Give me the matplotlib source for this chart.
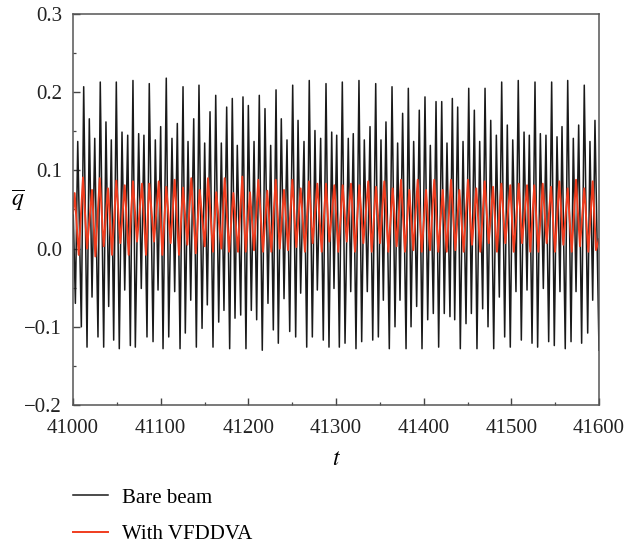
import numpy as np
import matplotlib
matplotlib.use('Agg')
import matplotlib.pyplot as plt

# extrema, times relative to t = 41000
t0 = 41000

black_peak_t = [0.0, 5.4, 12.2, 18.6, 24.8, 31.1, 37.6, 43.7, 49.4, 55.9, 62.4, 68.4, 74.9, 80.9, 87.0,
                93.9, 100.0, 106.4, 112.9, 119.0, 125.5, 131.2, 137.7, 143.7, 150.2, 156.3, 162.8, 169.2,
                175.3, 181.7, 187.4, 193.9, 200.0, 206.5, 212.5, 219.0, 225.5, 231.6, 237.6, 244.1, 250.6, 256.7,
                263.5, 269.5, 276.0, 282.5, 288.6, 295.1, 300.8, 307.2, 314.0, 319.7, 326.2, 332.3, 338.8, 345.3,
                351.3, 357.0, 363.9, 370.3, 376.0, 382.5, 388.6, 395.0, 401.5, 407.6, 414.1, 420.6, 426.6, 432.7,
                438.8, 444.9, 451.4, 457.8, 463.9, 470.0, 476.5, 482.9, 489.0, 495.4, 501.6, 507.9, 514.5, 520.5,
                527.0, 533.1, 539.5, 546.0, 552.1, 557.8, 564.3, 570.7, 576.8, 583.2, 589.7, 595.4]
black_peak_q = [0.06, 0.137, 0.207, 0.166, 0.141, 0.213, 0.162, 0.139, 0.213, 0.149, 0.145, 0.215, 0.147, 0.145, 0.211,
                0.139, 0.156, 0.218, 0.141, 0.160, 0.207, 0.137, 0.166, 0.209, 0.135, 0.175, 0.196, 0.135,
                0.181, 0.192, 0.132, 0.194, 0.183, 0.137, 0.196, 0.179, 0.132, 0.203, 0.166, 0.139, 0.209, 0.164,
                0.137, 0.215, 0.151, 0.141, 0.211, 0.149, 0.145, 0.213, 0.141, 0.147, 0.215, 0.139, 0.156, 0.211,
                0.139, 0.162, 0.207, 0.135, 0.173, 0.205, 0.137, 0.177, 0.194, 0.132, 0.188, 0.188, 0.135, 0.192,
                0.181, 0.137, 0.205, 0.177, 0.137, 0.205, 0.164, 0.145, 0.213, 0.158, 0.139, 0.215, 0.149, 0.145,
                0.213, 0.147, 0.145, 0.213, 0.143, 0.156, 0.215, 0.141, 0.158, 0.209, 0.137, 0.164]

black_trough_t = [2.7, 9.5, 16.0, 21.7, 28.5, 35.0, 40.7, 46.4, 52.8, 59.0, 65.4, 71.1, 77.9, 84.4,
                  91.3, 97.0, 102.7, 109.2, 116.0, 122.1, 128.1, 134.3, 140.7, 147.2, 153.2, 159.7, 166.2, 172.2,
                  178.7, 184.8, 191.3, 197.3, 203.4, 209.5, 215.9, 222.4, 228.5, 234.2, 240.7, 247.2, 254.0, 259.7,
                  266.6, 273.0, 278.7, 285.5, 292.0, 297.7, 303.8, 310.3, 316.8, 322.8, 329.3, 335.7, 341.9,
                  348.3, 354.0, 360.8, 367.3, 373.0, 379.9, 385.6, 392.0, 398.1, 404.6, 411.0, 417.1, 423.5, 430.0,
                  435.4, 441.8, 448.3, 454.4, 460.8, 467.3, 473.4, 479.9, 486.3, 492.4, 498.8, 505.3, 511.4, 517.9,
                  523.6, 530.0, 536.5, 542.6, 549.0, 555.5, 561.5, 568.1, 573.8, 580.2, 587.1, 592.8, 600.0]
black_trough_q = [-0.070, -0.100, -0.126, -0.062, -0.113, -0.126, -0.074, -0.117, -0.128, -0.053, -0.124, -0.126, -0.051, -0.113,
                  -0.119, -0.053, -0.128, -0.113, -0.055, -0.128, -0.108, -0.066, -0.126, -0.102, -0.072, -0.126, -0.094, -0.079,
                  -0.128, -0.089, -0.085, -0.128, -0.079, -0.091, -0.130, -0.070, -0.104, -0.121, -0.064, -0.106, -0.113, -0.057,
                  -0.126, -0.113, -0.053, -0.117, -0.126, -0.051, -0.126, -0.121, -0.055, -0.128, -0.119, -0.055, -0.117,
                  -0.113, -0.066, -0.128, -0.100, -0.066, -0.128, -0.100, -0.074, -0.128, -0.091, -0.083, -0.126, -0.083, -0.087,
                  -0.091, -0.128, -0.096, -0.083, -0.128, -0.077, -0.100, -0.128, -0.062, -0.113, -0.126, -0.055, -0.117, -0.053,
                  -0.121, -0.126, -0.051, -0.119, -0.124, -0.055, -0.128, -0.119, -0.055, -0.121, -0.108, -0.066, -0.130]

red_peak_t = [1.9, 11.4, 21.7, 30.5, 39.9, 49.4, 59.0, 68.4, 78.7, 87.0,
              97.8, 106.4, 116.0, 125.5, 134.9, 144.5, 154.0, 163.4, 173.0,
              182.9, 193.1, 201.9, 211.4, 221.6, 231.2, 240.7, 250.2, 259.7,
              269.2, 278.7, 288.6, 298.1, 307.6, 317.1, 326.6, 336.8, 345.6,
              355.1, 364.6, 374.2, 383.6, 393.2, 402.7, 412.1, 421.7, 431.2,
              440.7, 450.6, 460.0, 469.6, 479.1, 488.6, 498.8, 508.4, 517.9,
              526.2, 535.8, 545.3, 554.7, 564.3, 573.8, 583.2, 592.8, 600.0]
red_peak_q = [0.071, 0.091, 0.075, 0.090, 0.077, 0.087, 0.081, 0.086, 0.083, 0.083,
              0.086, 0.079, 0.088, 0.078, 0.090, 0.075, 0.090, 0.072, 0.090,
              0.071, 0.092, 0.072, 0.088, 0.074, 0.088, 0.075, 0.088, 0.077,
              0.086, 0.083, 0.083, 0.081, 0.081, 0.083, 0.081, 0.086, 0.079,
              0.086, 0.077, 0.088, 0.075, 0.088, 0.075, 0.088, 0.075, 0.088,
              0.075, 0.088, 0.077, 0.086, 0.079, 0.083, 0.081, 0.083, 0.081,
              0.081, 0.083, 0.079, 0.086, 0.077, 0.088, 0.077, 0.086, 0.012]

red_trough_t = [0.0, 6.5, 16.0, 25.5, 35.0, 44.5, 54.0, 63.5, 73.0, 83.3,
                92.4, 101.9, 111.4, 120.9, 130.4, 140.0, 150.2, 159.7, 169.2,
                178.0, 188.2, 197.0, 206.5, 216.7, 226.2, 235.8, 245.3, 254.7,
                264.6, 273.4, 283.7, 292.4, 302.6, 312.2, 321.7, 331.2, 340.7,
                350.2, 359.7, 369.2, 378.7, 388.2, 397.8, 407.2, 416.7, 426.3,
                436.1, 445.6, 455.1, 464.6, 474.2, 483.6, 493.1, 502.7, 512.2, 521.6,
                530.8, 540.3, 549.8, 559.3, 568.9, 578.3, 587.8, 596.6]
red_trough_q = [0.045, -0.008, 0.000, -0.010, 0.003, -0.008, 0.007, -0.008, 0.009, -0.008,
                0.009, -0.008, 0.007, -0.008, 0.005, -0.006, 0.003, -0.004, 0.000,
                -0.004, -0.004, -0.004, -0.002, -0.004, -0.004, 0.000, -0.002, 0.002,
                -0.004, 0.007, -0.004, 0.009, -0.004, 0.009, -0.004, 0.007, -0.004,
                0.007, -0.004, 0.003, -0.004, -0.002, -0.004, -0.002, -0.004, -0.004,
                -0.002, -0.004, 0.005, -0.004, 0.007, -0.004, 0.007, -0.004, 0.007, -0.004,
                -0.004, 0.007, -0.004, 0.005, -0.004, 0.003, -0.004, -0.002]

labels = ['Bare beam', 'With VFDDVA']
colors = ['#1a1a1a', '#f03c1e']


def merge(pt, pq, tt, tq):
    t = np.concatenate([pt, tt]) + t0
    q = np.concatenate([pq, tq])
    order = np.argsort(t)
    return t[order], q[order]


black_t, black_q = merge(black_peak_t, black_peak_q, black_trough_t, black_trough_q)
red_t, red_q = merge(red_peak_t, red_peak_q, red_trough_t, red_trough_q)

plt.rcParams['font.family'] = ['Liberation Serif', 'DejaVu Serif']
plt.rcParams['mathtext.fontset'] = 'stix'

fig = plt.figure(figsize=(6.24, 5.47), dpi=100)
ax = fig.add_axes([73 / 624, 1 - 405 / 547, 526 / 624, 391 / 547])

ax.plot(black_t, black_q, color=colors[0], lw=1.1, label=labels[0])
ax.plot(red_t, red_q, color=colors[1], lw=1.4, label=labels[1])

ax.set_xlim(41000, 41600)
ax.set_ylim(-0.2, 0.3)
ax.set_xticks(np.arange(41000, 41601, 100))
ax.set_xticks(np.arange(41050, 41600, 100), minor=True)
ax.set_yticks([-0.2, -0.1, 0.0, 0.1, 0.2, 0.3])
ax.set_yticks([-0.15, -0.05, 0.05, 0.15, 0.25], minor=True)
ax.set_yticklabels(['\u22120.2', '\u22120.1', '0.0', '0.1', '0.2', '0.3'])

ax.tick_params(which='both', direction='in', labelsize=15, colors='#444444', labelcolor='#222222')
ax.tick_params(which='major', length=5, width=1.0)
ax.tick_params(axis='x', which='major', pad=10)
ax.tick_params(axis='y', which='major', pad=8)
ax.tick_params(which='minor', length=2.5, width=0.9)
for s in ax.spines.values():
    s.set_color('#555555')
    s.set_linewidth(1.1)

ax.set_xlabel(r'$t$', fontsize=17, labelpad=8)
ax.set_ylabel(r'$\overline{q}$', fontsize=17, rotation=0)
ax.yaxis.set_label_coords(-0.105, 0.49)

fig.legend(loc='upper left', bbox_to_anchor=(73 / 624, 1 - 488 / 547), frameon=False,
           fontsize=15, handlelength=1.7, handletextpad=0.65, labelspacing=0.8,
           borderpad=0, borderaxespad=0)

fig.savefig('out.png', dpi=100)
